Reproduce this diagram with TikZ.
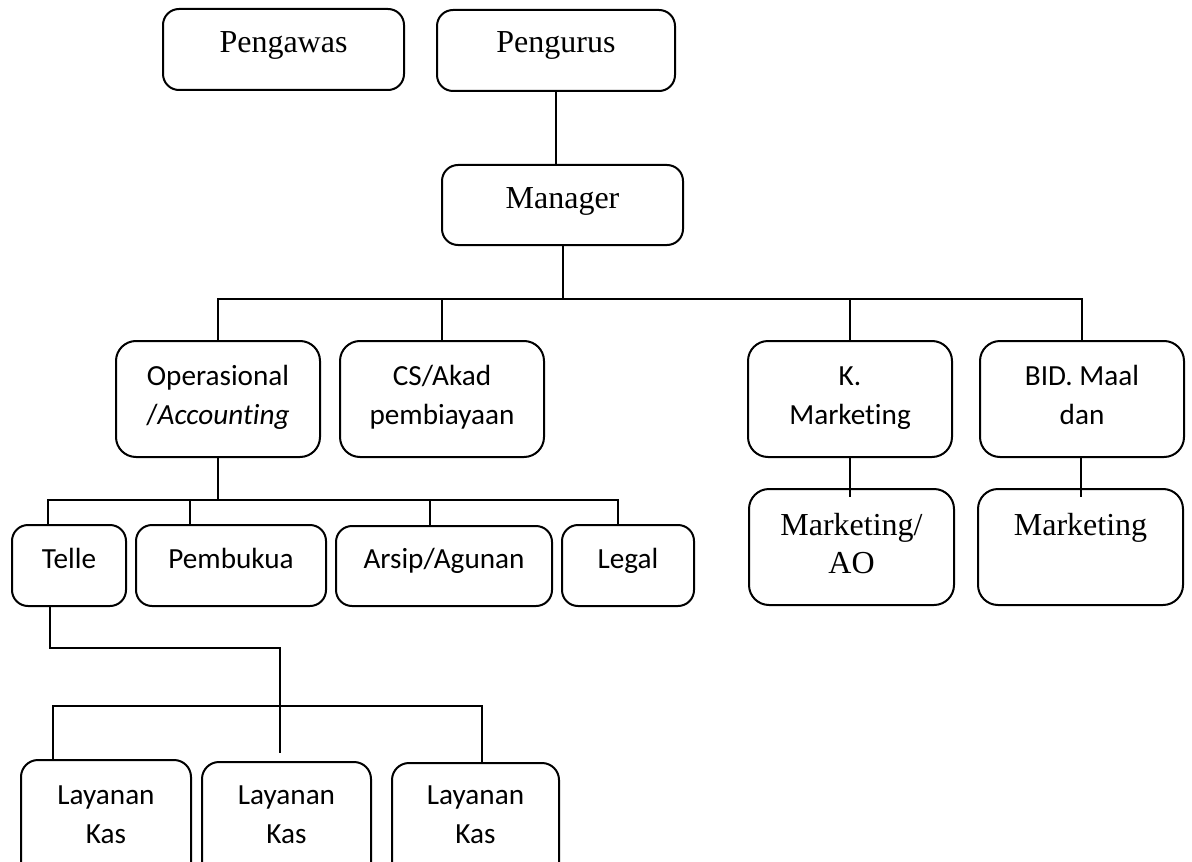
\documentclass[tikz,border=0pt]{standalone}
\usepackage{fontspec}
\setmainfont{Liberation Serif}
\newfontfamily\calfont[Ligatures=NoCommon]{Carlito}
\usetikzlibrary{fit}

\tikzset{
  box/.style={draw, line width=1pt, rounded corners=8pt, inner sep=0pt},
  tallbox/.style={box, rounded corners=10pt},
  serif/.style={font=\fontsize{16}{19}\selectfont, align=center, inner sep=0pt, anchor=base},
  sans/.style={font=\calfont\fontsize{14.6}{19.5}\selectfont, align=center, inner sep=0pt, anchor=base},
  link/.style={line width=1pt},
}

\begin{document}
\begin{tikzpicture}[x=0.5pt, y=-0.5pt]
\useasboundingbox (0,0) rectangle (1192,861);
\clip (0,0) rectangle (1192,861);

% top level
\node[box, fit={(163,9) (404,90)}] (pgw) {};
\node[box, fit={(437,10) (675,91)}] (pgr) {};
\node[box, fit={(442,165) (683,245)}] (man) {};
\node[serif] (pgw-t) at (pgw.center |- 0,53) {Pengawas};
\node[serif] (pgr-t) at (pgr.center |- 0,53) {Pengurus};
\node[serif] (man-t) at (man.center |- 0,209) {Manager};

% divisions (two-line labels sit on the baseline of their last line)
\node[tallbox, fit={(116,341) (320,457)}] (op) {};
\node[tallbox, fit={(340,341) (544,457)}] (cs) {};
\node[tallbox, fit={(748,341) (952,457)}] (km) {};
\node[tallbox, fit={(980,341) (1184,457)}] (bid) {};
\node[sans] (op-t) at (op.center |- 0,424) {Operasional\\/\textit{Accounting}};
\node[sans] (cs-t) at (cs.center |- 0,424) {CS/Akad\\pembiayaan};
\node[sans] (km-t) at (km.center |- 0,424) {K.\\Marketing};
\node[sans] (bid-t) at (bid.center |- 0,424) {BID. Maal\\dan};

% marketing units
\node[tallbox, fit={(749,489) (954,605)}] (mao) {};
\node[tallbox, fit={(978,489) (1183,605)}] (mk) {};
\node[serif] (mao-t) at (mao.center |- 0,573) {Marketing/\\AO};
\node[serif] (mk-t) at (mk.center |- 0,535) {Marketing};

% operational units
\node[box, fit={(12,525) (126,606)}] (tel) {};
\node[box, fit={(136,525) (326,606)}] (pbk) {};
\node[box, fit={(336,526) (552,606)}] (ars) {};
\node[box, fit={(562,525) (694,606)}] (leg) {};
\node[sans] (tel-t) at (tel.center |- 0,568) {Telle};
\node[sans] (pbk-t) at (pbk.center |- 0,568) {Pembukua};
\node[sans] (ars-t) at (ars.center |- 0,568) {Arsip/Agunan};
\node[sans] (leg-t) at (leg.center |- 0,568) {Legal};

% cash services
\node[box, rounded corners=8.5pt, fit={(21,760) (191,885)}] (lk1) {};
\node[box, rounded corners=8.5pt, fit={(202,762) (371,885)}] (lk2) {};
\node[box, rounded corners=8.5pt, fit={(392,763) (559,885)}] (lk3) {};
\node[sans] (lk1-t) at (lk1.center |- 0,843) {Layanan\\Kas};
\node[sans] (lk2-t) at (lk2.center |- 0,843) {Layanan\\Kas};
\node[sans] (lk3-t) at (lk3.center |- 0,843) {Layanan\\Kas};

% bus lines
\coordinate (bus1) at (563,299);
\coordinate (bus2) at (218,500);
\coordinate (tel-turn) at (280,648);
\coordinate (bus3) at (280,706);
\coordinate (lk-end) at (280,753);

\path (tel.north) ++(-21,0) coordinate (tel-in);
\path (pbk.north) ++(-41,0) coordinate (pbk-in);
\path (ars.north) ++(-14,0) coordinate (ars-in);
\path (leg.north) ++(-10,0) coordinate (leg-in);
\path (tel.south) ++(-19,0) coordinate (tel-out);
\path (lk1.north) ++(-53,0) coordinate (lk1-in);
\path (lk3.north) ++(6.5,0) coordinate (lk3-in);

% connectors
\draw[link] (pgr.south) -- (pgr.south |- man.north);
\draw[link] (man.south) -- (man.south |- bus1);
\draw[link] (op.north) -- (op.north |- bus1) -- (bid.north |- bus1) -- (bid.north);
\draw[link] (cs.north) -- (cs.north |- bus1);
\draw[link] (km.north) -- (km.north |- bus1);
\draw[link] (km.south) -- (km.south |- mao.north) -- ++(0,9);
\draw[link] (bid.south -| mk.north) -- (mk.north) -- ++(0,9);

\draw[link] (op.south) -- (op.south |- bus2);
\draw[link] (tel-in) -- (tel-in |- bus2) -- (leg-in |- bus2) -- (leg-in);
\draw[link] (pbk-in) -- (pbk-in |- bus2);
\draw[link] (ars-in) -- (ars-in |- bus2);

\draw[link] (tel-out) |- (tel-turn) -- (lk-end);
\draw[link] (lk1-in) |- (bus3) -| (lk3-in);
\end{tikzpicture}
\end{document}
